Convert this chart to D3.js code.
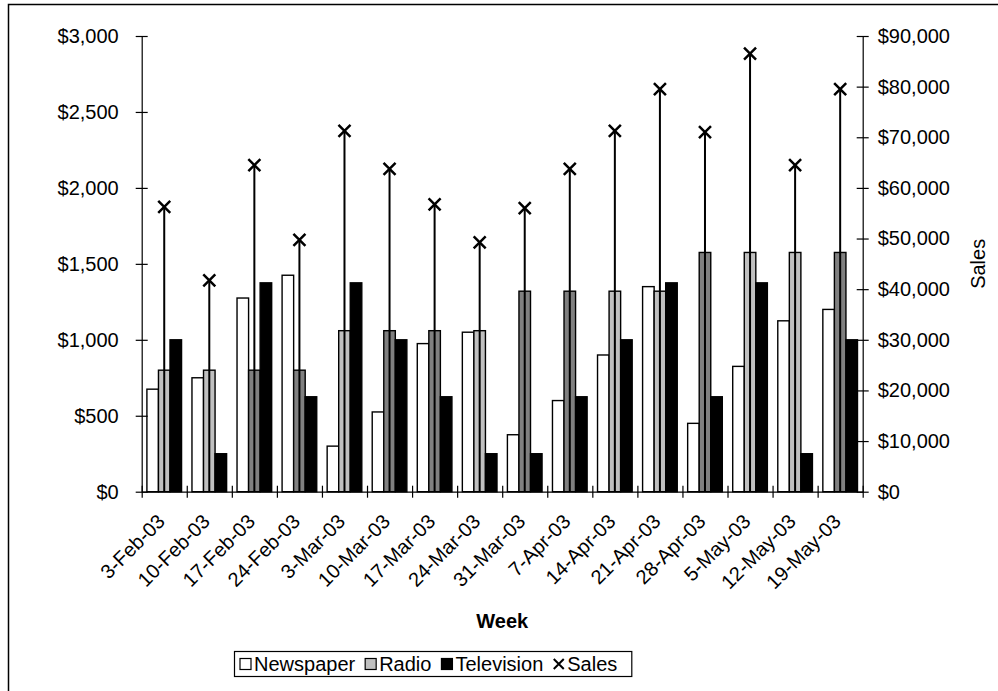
<!DOCTYPE html>
<html>
<head>
<meta charset="utf-8">
<script src="https://cdn.jsdelivr.net/npm/d3@7"></script>
<style>
  html, body { margin: 0; padding: 0; background: #fff; }
  svg { display: block; font-family: "Liberation Sans", Arial, sans-serif; }
</style>
</head>
<body>
<svg id="chart" width="998" height="691"></svg>
<script>
// weekly ad spend (left axis) and sales (right axis)
var weeks = ["3-Feb-03", "10-Feb-03", "17-Feb-03", "24-Feb-03", "3-Mar-03", "10-Mar-03",
  "17-Mar-03", "24-Mar-03", "31-Mar-03", "7-Apr-03", "14-Apr-03", "21-Apr-03",
  "28-Apr-03", "5-May-03", "12-May-03", "19-May-03"];
var newspaper = [675, 750, 1275, 1425, 300, 525, 975, 1050, 375, 600, 900, 1350, 450, 825, 1125, 1200];
var radio = [800, 800, 800, 800, 1060, 1060, 1060, 1060, 1320, 1320, 1320, 1320, 1575, 1575, 1575, 1575];
var television = [1000, 250, 1375, 625, 1375, 1000, 625, 250, 250, 625, 1000, 1375, 625, 1375, 250, 1000];
var sales = [56250, 41750, 64500, 49750, 71250, 63750, 56750, 49250, 56000, 63750, 71250, 79500, 71000, 86500, 64500, 79500];
// radio bars are drawn in two shades in the original
var radioDark = [0, 0, 1, 1, 0, 1, 1, 0, 1, 1, 0, 0, 1, 0, 0, 1];
var leftTicks = [0, 500, 1000, 1500, 2000, 2500, 3000];
var rightTicks = [0, 10000, 20000, 30000, 40000, 50000, 60000, 70000, 80000, 90000];
var seriesNames = ["Newspaper", "Radio", "Television"];

var svg = d3.select("#chart");
var plotL = 141.7, plotR = 862.7, plotT = 36, plotB = 491.7;
var fmt = d3.format(",");

svg.append("rect").attr("width", 998).attr("height", 691).attr("fill", "#fff");
// outer chart border (runs past the right/bottom edge of the picture)
svg.append("rect")
  .attr("x", 8.5).attr("y", 4.5).attr("width", 1010).attr("height", 710)
  .attr("fill", "none").attr("stroke", "#000").attr("stroke-width", 1.5);

var x = d3.scaleBand().domain(weeks).range([plotL, plotR])
  .paddingInner(0.231).paddingOuter(0.1155);
var xs = d3.scaleBand().domain(seriesNames).range([0, x.bandwidth()]);
var xi = d3.scaleLinear().domain([0, weeks.length]).range([plotL, plotR]);
var yL = d3.scaleLinear().domain([0, 3000]).range([plotB, plotT]);
var yR = d3.scaleLinear().domain([0, 90000]).range([plotB, plotT]);

var rows = weeks.map(function(w, i) {
  return { week: w, i: i, vals: [newspaper[i], radio[i], television[i]] };
});

function fillFor(s, i) {
  if (s == 0) return "#fff";
  if (s == 1) return radioDark[i] ? "#808080" : "#c0c0c0";
  return "#000";
}

var groups = svg.append("g").selectAll("g")
  .data(rows).join("g")
  .attr("transform", d => `translate(${x(d.week)},0)`);

groups.selectAll("rect")
  .data(d => d.vals.map((v, s) => ({ v: v, s: s, i: d.i })))
  .join("rect")
  .attr("x", d => xs(seriesNames[d.s]))
  .attr("width", xs.bandwidth())
  .attr("y", d => yL(d.v))
  .attr("height", d => plotB - yL(d.v))
  .attr("fill", d => fillFor(d.s, d.i))
  .attr("stroke", "#000")
  .attr("stroke-width", 1.4);

// axes
function crossTicks(g, horiz) {
  g.select(".domain").attr("stroke", "#000").attr("stroke-width", 1.2);
  g.selectAll(".tick line").attr("stroke", "#000").attr("stroke-width", 1.2);
  if (horiz) g.selectAll(".tick line").attr("y1", -6).attr("y2", 6);
  else g.selectAll(".tick line").attr("x1", -6).attr("x2", 6);
  g.selectAll("text").attr("font-size", 20).attr("fill", "#000")
    .attr("font-family", "'Liberation Sans', Arial, sans-serif");
}

svg.append("g")
  .attr("transform", `translate(${plotL},0)`)
  .call(d3.axisLeft(yL).tickValues(leftTicks).tickSize(6).tickPadding(17).tickSizeOuter(0)
    .tickFormat(d => "$" + fmt(d)))
  .call(g => crossTicks(g, false));

svg.append("g")
  .attr("transform", `translate(${plotR},0)`)
  .call(d3.axisRight(yR).tickValues(rightTicks).tickSize(6).tickPadding(9).tickSizeOuter(0)
    .tickFormat(d => "$" + fmt(d)))
  .call(g => crossTicks(g, false));

svg.append("g")
  .attr("transform", `translate(0,${plotB})`)
  .call(d3.axisBottom(xi).tickValues(d3.range(weeks.length + 1)).tickSizeOuter(0).tickFormat(""))
  .call(g => crossTicks(g, true));

// rotated category labels
svg.append("g").selectAll("text")
  .data(weeks).join("text")
  .attr("transform", d => `translate(${x(d) + x.bandwidth() / 2 - 3},${plotB + 26}) rotate(-45)`)
  .attr("text-anchor", "end")
  .attr("dy", "0.35em")
  .attr("font-size", 20)
  .text(d => d);

// sales drop lines + markers
var sg = svg.append("g");
sg.selectAll("line")
  .data(sales).join("line")
  .attr("x1", (d, i) => x(weeks[i]) + x.bandwidth() / 2)
  .attr("x2", (d, i) => x(weeks[i]) + x.bandwidth() / 2)
  .attr("y1", d => yR(d))
  .attr("y2", yR(0))
  .attr("stroke", "#000").attr("stroke-width", 2);
sg.selectAll("path")
  .data(sales).join("path")
  .attr("transform", (d, i) => `translate(${x(weeks[i]) + x.bandwidth() / 2},${yR(d)})`)
  .attr("d", "M-6,-6L6,6M-6,6L6,-6")
  .attr("stroke", "#000").attr("stroke-width", 2.5).attr("fill", "none");

// axis titles
svg.append("text")
  .attr("x", (plotL + plotR) / 2).attr("y", 628)
  .attr("text-anchor", "middle").attr("font-size", 20).attr("font-weight", "bold")
  .text("Week");
svg.append("text")
  .attr("transform", `translate(985,${(plotT + plotB) / 2}) rotate(-90)`)
  .attr("text-anchor", "middle").attr("font-size", 20)
  .text("Sales");

// legend
var legend = svg.append("g");
var legBox = legend.append("rect")
  .attr("fill", "#fff").attr("stroke", "#000").attr("stroke-width", 1.2);
var items = [
  { name: "Newspaper", fill: "#fff" },
  { name: "Radio", fill: "#c0c0c0" },
  { name: "Television", fill: "#000" },
  { name: "Sales", marker: true }
];
var lx = 240, ly = 664;
items.forEach(function(it) {
  if (it.marker) {
    legend.append("path")
      .attr("transform", `translate(${lx + 5.5},${ly})`)
      .attr("d", "M-5,-5L5,5M-5,5L5,-5")
      .attr("stroke", "#000").attr("stroke-width", 2).attr("fill", "none");
  } else {
    legend.append("rect")
      .attr("x", lx).attr("y", ly - 5.5).attr("width", 11).attr("height", 11)
      .attr("fill", it.fill).attr("stroke", "#000").attr("stroke-width", 1.2);
  }
  var t = legend.append("text")
    .attr("x", lx + 14).attr("y", ly).attr("dy", "0.35em")
    .attr("font-size", 20).text(it.name);
  lx += 14 + t.node().getComputedTextLength() + 10;
});
legBox.attr("x", 234.5).attr("y", 651.5).attr("width", lx - 234 + 4).attr("height", 25);
</script>
</body>
</html>
